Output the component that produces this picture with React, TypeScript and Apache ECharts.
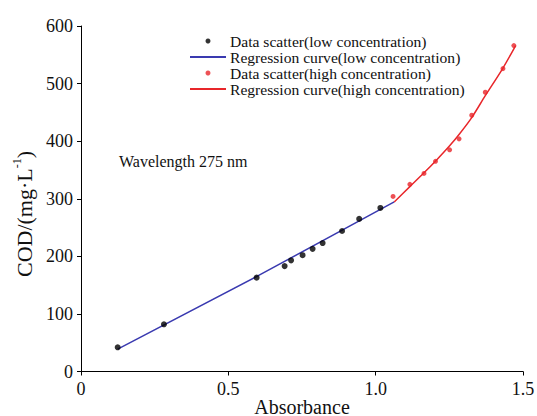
import React, { useEffect, useRef } from "react";
import * as echarts from "echarts";

const lowX = [0.1245, 0.2815, 0.596, 0.691, 0.713, 0.752, 0.786, 0.82, 0.886, 0.944, 1.016];
const lowY = [42, 82, 163, 183, 193, 202, 213, 223, 244, 265, 284];
const highX = [1.059, 1.116, 1.164, 1.203, 1.251, 1.283, 1.326, 1.372, 1.432, 1.469];
const highY = [304, 325, 344, 365, 385, 404, 445, 485, 526, 566];
const lowFitX = [0.1245, 0.6, 1.063];
const lowFitY = [39, 166, 294.5];
const highFitX = [1.063, 1.116, 1.164, 1.206, 1.251, 1.285, 1.326, 1.372, 1.432, 1.475];
const highFitY = [294.5, 321, 345, 367, 392, 413, 441, 479, 527, 566];
const xTickLabels = ["0", "0.5", "1.0", "1.5"];
const xTickValues = [0, 0.5, 1, 1.5];
const legendNames = [
  "Data scatter(low concentration)",
  "Regression curve(low concentration)",
  "Data scatter(high concentration)",
  "Regression curve(high concentration)",
];

const FONT = "'Liberation Serif', 'Times New Roman', serif";
const BLUE = "#3a3ab0";
const RED = "#e8262a";

const zip = (xs: number[], ys: number[]) => xs.map((x, i) => [x, ys[i]]);

export default function App() {
  const ref = useRef<HTMLDivElement>(null);
  useEffect(() => {
    if (!ref.current) return;
    const chart = echarts.init(ref.current, null, { renderer: "svg" });
    chart.setOption({
      animation: false,
      backgroundColor: "#fff",
      grid: { left: 81, right: 14, top: 26, bottom: 44.5, containLabel: false, outerBoundsMode: "none" },
      legend: {
        orient: "vertical",
        left: 189,
        top: 33,
        padding: 0,
        itemGap: 0,
        itemWidth: 36,
        itemHeight: 5,
        textStyle: { fontFamily: FONT, fontSize: 15.6, color: "#111", lineHeight: 15.2, padding: [0, 0, 0, -1] },
        data: legendNames.map((n, i) =>
          i % 2 === 1 ? { name: n, itemStyle: { opacity: 0 } } : { name: n }
        ),
      },
      xAxis: {
        type: "value",
        min: 0,
        max: 1.5,
        interval: 0.5,
        name: "Absorbance",
        nameLocation: "middle",
        nameGap: 25,
        nameMoveOverlap: false,
        nameTextStyle: { fontFamily: FONT, fontSize: 20, color: "#111" },
        axisLine: { show: true, lineStyle: { color: "#000", width: 1 } },
        axisTick: { show: true, length: 4, inside: false, lineStyle: { color: "#000" } },
        axisLabel: {
          fontFamily: FONT,
          fontSize: 18,
          color: "#111",
          margin: 8,
          formatter: (v: number) => {
            const i = xTickValues.findIndex((t) => Math.abs(t - v) < 1e-9);
            return i >= 0 ? xTickLabels[i] : String(v);
          },
        },
        splitLine: { show: false },
      },
      yAxis: {
        type: "value",
        min: 0,
        max: 600,
        interval: 100,
        axisLine: { show: true, lineStyle: { color: "#000", width: 1 } },
        axisTick: { show: true, length: 4, inside: false, lineStyle: { color: "#000" } },
        axisLabel: { fontFamily: FONT, fontSize: 18, color: "#111", margin: 8 },
        splitLine: { show: false },
      },
      graphic: [
        {
          type: "text",
          left: 119,
          top: 153,
          style: { text: "Wavelength 275 nm", fontFamily: FONT, fontSize: 16, fill: "#111" },
        },
        {
          type: "text",
          x: 23,
          y: 214,
          rotation: Math.PI / 2,
          style: {
            text: "{a|COD/(mg·L}{s|-1}{a|)}",
            align: "center",
            verticalAlign: "middle",
            rich: {
              a: { fontFamily: FONT, fontSize: 22, fill: "#111", lineHeight: 25, verticalAlign: "bottom" },
              s: { fontFamily: FONT, fontSize: 12, fill: "#111", lineHeight: 14, verticalAlign: "top" },
            },
          },
        },
      ],
      series: [
        {
          name: legendNames[0],
          type: "scatter",
          data: zip(lowX, lowY),
          symbol: "circle",
          symbolSize: 6,
          itemStyle: { color: "#000" },
          z: 3,
        },
        {
          name: legendNames[1],
          type: "line",
          data: zip(lowFitX, lowFitY),
          symbol: "none",
          smooth: false,
          lineStyle: { color: BLUE, width: 1.5 },
          itemStyle: { color: BLUE },
          z: 2,
        },
        {
          name: legendNames[2],
          type: "scatter",
          data: zip(highX, highY),
          symbol: "circle",
          symbolSize: 5,
          itemStyle: { color: RED },
          z: 3,
        },
        {
          name: legendNames[3],
          type: "line",
          data: zip(highFitX, highFitY),
          symbol: "none",
          smooth: 0.3,
          lineStyle: { color: RED, width: 1.5 },
          itemStyle: { color: RED },
          z: 2,
        },
      ],
    });
    return () => chart.dispose();
  }, []);
  return <div ref={ref} style={{ width: 537, height: 416, position: "absolute", left: 0, top: 0 }} />;
}
